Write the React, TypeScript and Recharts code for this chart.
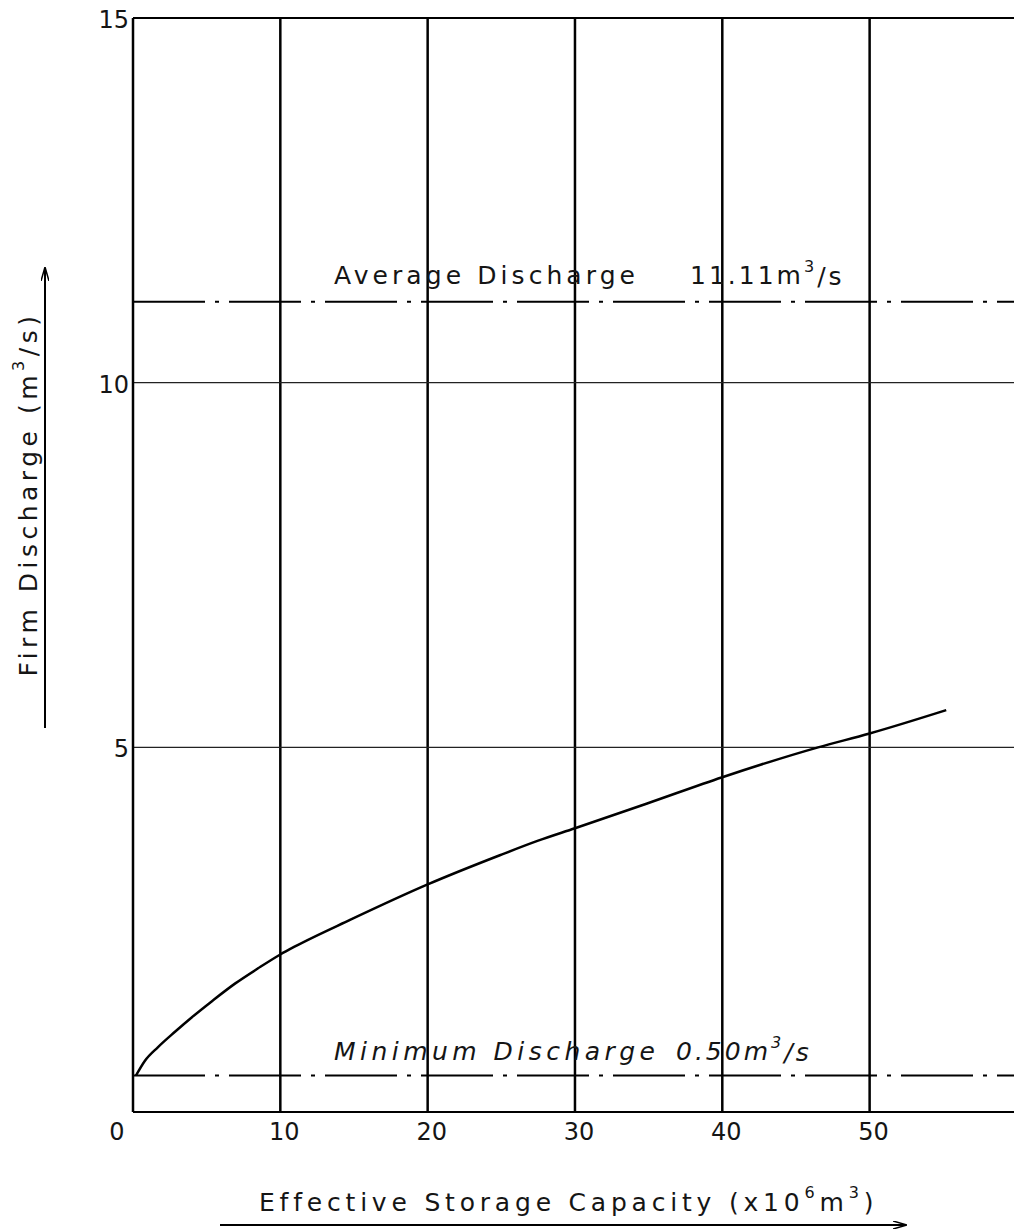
import React from 'react';
import { LineChart, Line, XAxis, YAxis, CartesianGrid, ReferenceLine } from 'recharts';

// effective storage capacity (x10^6 m3) vs firm discharge (m3/s)
const storage = [0.2, 0.8, 1.7, 2.85, 4.0, 5.36, 6.92, 8.49, 10, 11, 14.8, 20, 24.9, 27.5, 30, 34.9, 40, 46.5, 50, 55.2];
const firmDischarge = [0.5, 0.7, 0.89, 1.1, 1.3, 1.52, 1.76, 1.97, 2.16, 2.27, 2.64, 3.12, 3.52, 3.72, 3.89, 4.23, 4.59, 5.0, 5.19, 5.51];

const xTicks = [0, 10, 20, 30, 40, 50];
const yTicks = [5, 10, 15];
const xGrid = [10, 20, 30, 40, 50];
const yGrid = [5, 10];

const averageDischarge = 11.11;
const minimumDischarge = 0.5;

const data = storage.map((s, i) => ({ storage: s, discharge: firmDischarge[i] }));

const FONT = '"DejaVu Sans", sans-serif';
const INK = '#151515';

const XTick = ({ x, y, payload }: any) => (
  <text
    x={x + (payload.value === 0 ? -16 : 4)}
    y={y + 12}
    textAnchor="middle"
    dominantBaseline="central"
    fontFamily={FONT}
    fontSize={24}
    fill={INK}
  >
    {payload.value}
  </text>
);

const YTick = ({ x, y, payload }: any) => (
  <text x={x + 4} y={y + 2} textAnchor="end" dominantBaseline="central" fontFamily={FONT} fontSize={24} fill={INK}>
    {payload.value}
  </text>
);

const DischargeLabel = ({ viewBox, name, nameWidth, value, valueOffset, valueWidth, italic, rise }: any) => {
  const y0 = viewBox.y - rise;
  return (
    <g fontFamily={FONT} fontSize={25} fill={INK} fontStyle={italic ? 'italic' : 'normal'}>
      <text x={viewBox.x + 201} y={y0} dominantBaseline="central" textLength={nameWidth} lengthAdjust="spacing">
        {name}
      </text>
      <text x={viewBox.x + valueOffset} y={y0} dominantBaseline="central" letterSpacing={valueWidth}>
        {value}m<tspan fontSize={16} dy={-10}>3</tspan>
        <tspan dy={10}>/s</tspan>
      </text>
    </g>
  );
};

const App: React.FC = () => {
  return (
    <div style={{ position: 'absolute', left: 0, top: 0, width: 1014, height: 1229, overflow: 'hidden', background: '#fff' }}>
      <LineChart width={1014} height={1229} data={data} margin={{ top: 18, right: 0, bottom: 77, left: 73 }}>
        <CartesianGrid horizontal={false} verticalValues={xGrid} stroke="#000" strokeWidth={2.5} />
        <CartesianGrid vertical={false} horizontalValues={yGrid} stroke="#222" strokeWidth={1.2} />
        <XAxis
          dataKey="storage"
          type="number"
          domain={[0, 59.8]}
          allowDataOverflow
          ticks={xTicks}
          tickLine={false}
          axisLine={{ stroke: '#000', strokeWidth: 2 }}
          tick={<XTick />}
          height={40}
        />
        <YAxis
          type="number"
          domain={[0, 15]}
          ticks={yTicks}
          tickLine={false}
          axisLine={{ stroke: '#000', strokeWidth: 2.5 }}
          tick={<YTick />}
          width={60}
        />
        <ReferenceLine y={15} stroke="#000" strokeWidth={2} />
        <ReferenceLine
          y={averageDischarge}
          stroke="#000"
          strokeWidth={2}
          strokeDasharray="72 10 4 10"
          label={
            <DischargeLabel name="Average Discharge" nameWidth={301} value="11.11" valueOffset={557} valueWidth={3} rise={26} />
          }
        />
        <ReferenceLine
          y={minimumDischarge}
          stroke="#000"
          strokeWidth={2}
          strokeDasharray="72 10 4 10"
          label={
            <DischargeLabel
              name="Minimum Discharge"
              nameWidth={321}
              value="0.50"
              valueOffset={543}
              valueWidth={3}
              rise={24}
              italic
            />
          }
        />
        <Line
          dataKey="discharge"
          type="monotone"
          stroke="#000"
          strokeWidth={2.5}
          dot={false}
          isAnimationActive={false}
        />
      </LineChart>
      <svg width={1014} height={1229} style={{ position: 'absolute', left: 0, top: 0, pointerEvents: 'none' }}>
        <defs>
          <marker id="tip" markerWidth="14" markerHeight="8" refX="13" refY="4" orient="auto" markerUnits="userSpaceOnUse">
            <path d="M0,0 L14,4 L0,8" fill="none" stroke="#000" strokeWidth={1.5} />
          </marker>
        </defs>
        <text
          x={28}
          y={494}
          transform="rotate(-90 28 494)"
          textAnchor="middle"
          dominantBaseline="central"
          fontFamily={FONT}
          fontSize={25}
          fill={INK}
          letterSpacing={4.5}
        >
          Firm Discharge (m<tspan fontSize={16} dy={-10}>3</tspan><tspan dy={10}>/s)</tspan>
        </text>
        <line x1={45} y1={728} x2={45} y2={268} stroke="#000" strokeWidth={2} markerEnd="url(#tip)" />
        <text x={259} y={1202} dominantBaseline="central" fontFamily={FONT} fontSize={25} fill={INK} letterSpacing={4.8}>
          Effective Storage Capacity (x10<tspan fontSize={16} dy={-10}>6</tspan><tspan dy={10}>m</tspan>
          <tspan fontSize={16} dy={-10}>3</tspan><tspan dy={10}>)</tspan>
        </text>
        <line x1={220} y1={1225} x2={906} y2={1225} stroke="#000" strokeWidth={2} markerEnd="url(#tip)" />
      </svg>
    </div>
  );
};

export default App;
